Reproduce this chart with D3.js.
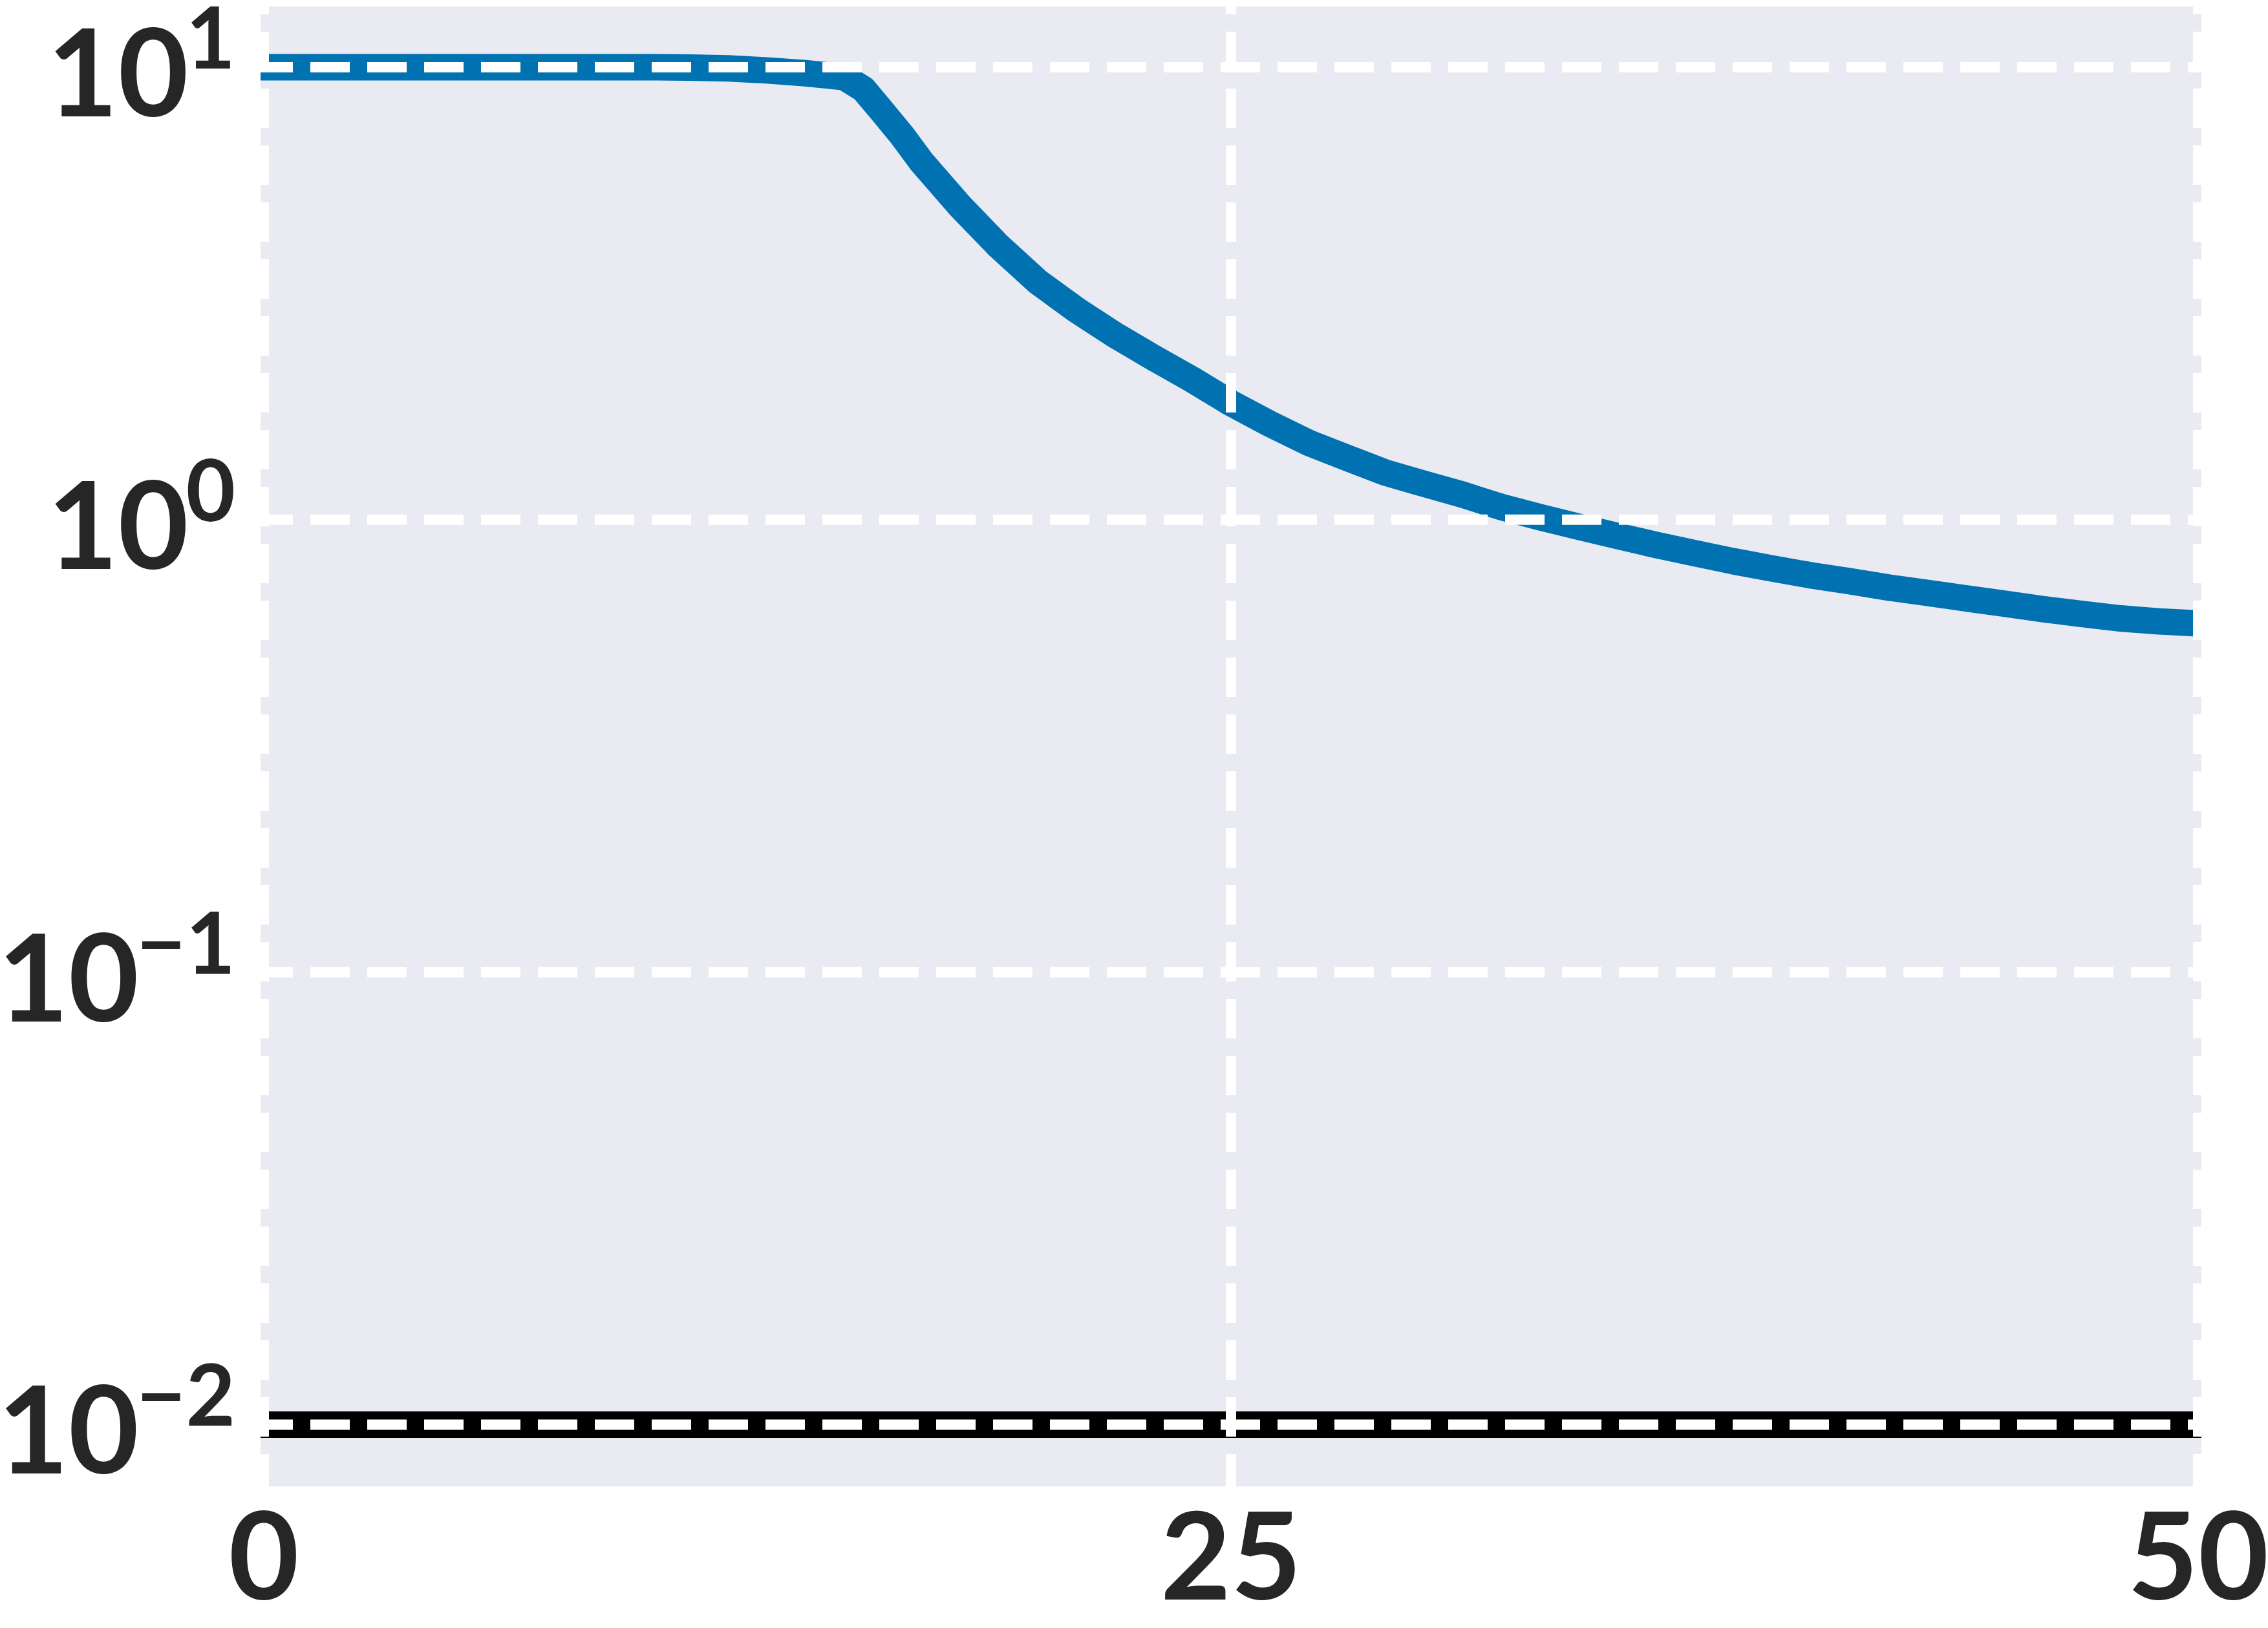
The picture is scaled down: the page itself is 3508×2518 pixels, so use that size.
<!DOCTYPE html>
<html>
<head>
<meta charset="utf-8">
<script src="https://cdn.jsdelivr.net/npm/d3@7"></script>
<style>
  html, body { margin: 0; padding: 0; background: #ffffff; }
  svg { display: block; }
</style>
</head>
<body>
<div id="chart"></div>
<script>
/*************************************************************
 *  Data section.
 *************************************************************/

// training curve (x = epoch, y = loss, log scale)
const epochs = [0, 1, 2, 3, 4, 5, 6, 7, 8, 9, 10, 11, 12, 13, 14, 15, 15.5, 16, 16.5,
    17, 18, 19, 20, 21, 22, 23, 24, 25, 26, 27, 28, 29, 30, 31, 32, 33, 34, 35,
    36, 37, 38, 39, 40, 41, 42, 43, 44, 45, 46, 47, 48, 49, 50];
const lossValues = [10.0, 10.0, 10.0, 10.0, 10.0, 10.0, 10.0, 10.0, 10.0, 10.0, 10.0,
    9.98, 9.94, 9.84, 9.70, 9.51, 8.95, 7.96, 7.06,
    6.18, 4.93, 4.02, 3.36, 2.91, 2.56, 2.28, 2.04, 1.81, 1.63, 1.48, 1.37, 1.27, 1.20,
    1.135, 1.066, 1.012, 0.964, 0.920, 0.879, 0.843, 0.809, 0.780, 0.753, 0.731, 0.708,
    0.689, 0.670, 0.652, 0.634, 0.619, 0.605, 0.596, 0.590];

// horizontal reference line
const targetEpochs = [0, 50];
const targetValues = [0.01, 0.01];

// ticks
const xTicks = [0, 25, 50];
const yTickExponents = [1, 0, -1, -2];


/*************************************************************
 *  Layout section.
 *************************************************************/

const W = 3508, H = 2518;
const plot = {left: 403, right: 3405, top: 10, bottom: 2299};
const gridPad = 11;          // grid dashes start a bit outside the axes
const textColor = '#262626';
const font = 'Lato, "Open Sans", sans-serif';

let x = d3.scaleLinear()
    .domain([0, 50])
    .range([408, 3400]);

let y = d3.scaleLog()
    .domain([Math.pow(10, -2.1365), Math.pow(10, 1.1343)])
    .range([plot.bottom, plot.top]);

let svg = d3.select('#chart')
    .append('svg')
    .attr('width', W)
    .attr('height', H);

svg.append('rect')
    .attr('width', W)
    .attr('height', H)
    .attr('fill', '#ffffff');

svg.append('defs')
    .append('clipPath')
    .attr('id', 'plot-clip')
    .append('rect')
    .attr('x', plot.left)
    .attr('y', plot.top)
    .attr('width', plot.right - plot.left)
    .attr('height', plot.bottom - plot.top);

// axes background
svg.append('rect')
    .attr('x', plot.left)
    .attr('y', plot.top)
    .attr('width', plot.right - plot.left)
    .attr('height', plot.bottom - plot.top)
    .attr('fill', '#EAEAF2');

let inner = svg.append('g')
    .attr('clip-path', 'url(#plot-clip)');


/*************************************************************
 *  Lines.
 *************************************************************/

function draw_series(xs, ys, color){
    let line = d3.line()
        .x(d => x(d[0]))
        .y(d => y(d[1]));

    inner.append('path')
        .attr('d', line(d3.zip(xs, ys)))
        .attr('fill', 'none')
        .attr('stroke', color)
        .attr('stroke-width', 41)
        .attr('stroke-linecap', 'square')
        .attr('stroke-linejoin', 'round');
}

draw_series(epochs, lossValues, '#0072B2');
draw_series(targetEpochs, targetValues, '#000000');


/*************************************************************
 *  Grid (drawn over the lines, as in the reference).
 *************************************************************/

for (let e of yTickExponents){
    let yy = y(Math.pow(10, e));
    inner.append('line')
        .attr('x1', plot.left - gridPad)
        .attr('x2', plot.right + gridPad)
        .attr('y1', yy)
        .attr('y2', yy)
        .attr('stroke', '#ffffff')
        .attr('stroke-width', 16)
        .attr('stroke-dasharray', '61 27');
}

for (let t of xTicks){
    let xx = x(t);
    inner.append('line')
        .attr('x1', xx)
        .attr('x2', xx)
        .attr('y1', plot.bottom + gridPad)
        .attr('y2', plot.top - gridPad)
        .attr('stroke', '#ffffff')
        .attr('stroke-width', 16)
        .attr('stroke-dasharray', '61 27');
}


/*************************************************************
 *  Tick labels.
 *************************************************************/

for (let e of yTickExponents){
    let yy = y(Math.pow(10, e));
    let label = svg.append('text')
        .attr('x', 364)
        .attr('y', yy + 76)
        .attr('text-anchor', 'end')
        .attr('font-family', font)
        .attr('font-weight', 'bold')
        .attr('font-size', 188)
        .attr('fill', textColor);

    label.append('tspan')
        .text('10');

    label.append('tspan')
        .attr('dy', -74)
        .attr('dx', -4)
        .attr('font-size', 132)
        .text(e < 0 ? '\u2212' + Math.abs(e) : String(e));
}

for (let t of xTicks){
    svg.append('text')
        .attr('x', x(t))
        .attr('y', 2474)
        .attr('text-anchor', 'middle')
        .attr('font-family', font)
        .attr('font-weight', 'bold')
        .attr('font-size', 188)
        .attr('fill', textColor)
        .text(t);
}
</script>
</body>
</html>
